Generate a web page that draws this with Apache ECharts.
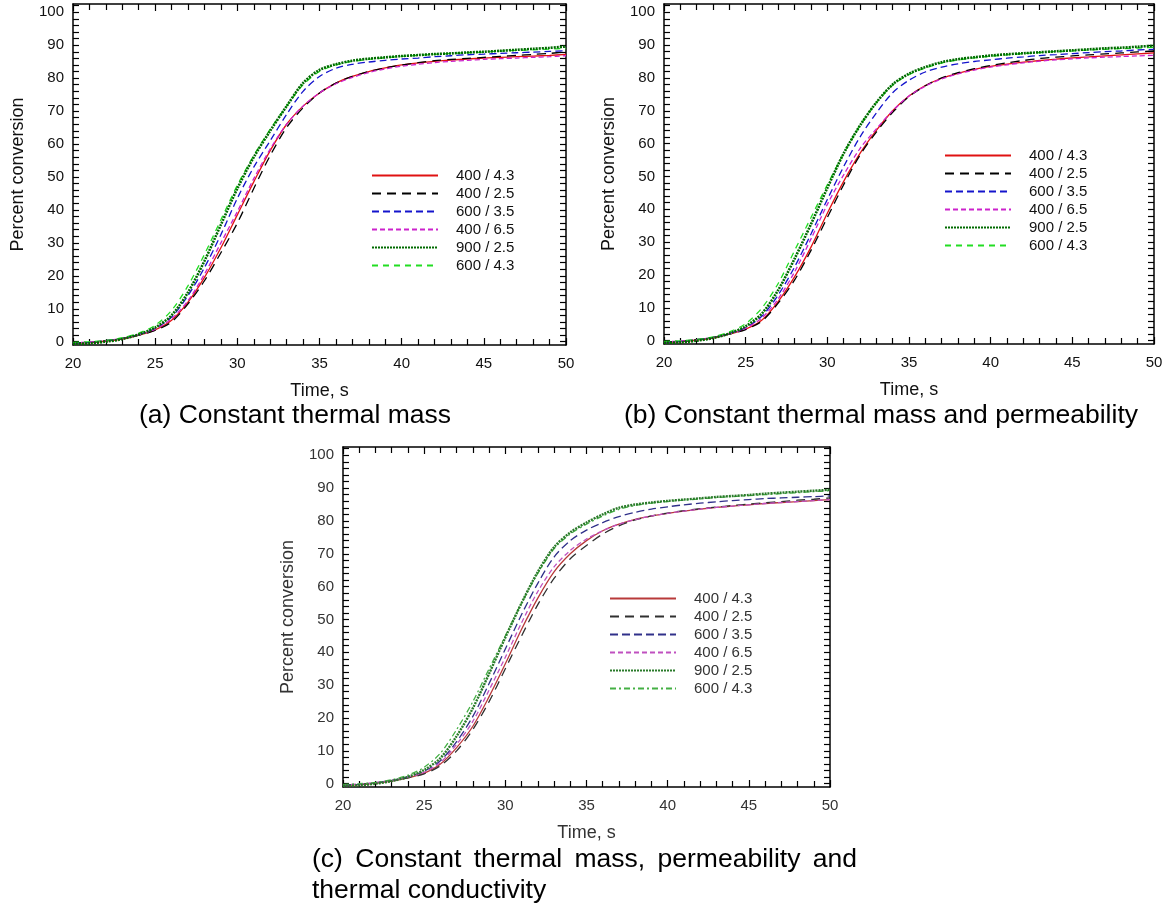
<!DOCTYPE html>
<html>
<head>
<meta charset="utf-8">
<script src="https://cdn.jsdelivr.net/npm/echarts@6/dist/echarts.min.js"></script>
<style>
  html, body { margin: 0; padding: 0; background: #fff; }
  #chart { width: 1168px; height: 924px; }
</style>
</head>
<body>
<div id="chart"></div>
<script>
// Time axis (s)
const time = [20,21,22,23,24,25,26,27,28,29,30,31,32,33,34,35,36,37,38,39,40,41,42,43,44,45,46,47,48,49,50];

// Case labels (power / heating rate)
const caseLabels = ['400 / 4.3', '400 / 2.5', '600 / 3.5', '400 / 6.5', '900 / 2.5', '600 / 4.3'];

// Tick labels
const xTicks = [20, 25, 30, 35, 40, 45, 50];
const yTicks = [0, 10, 20, 30, 40, 50, 60, 70, 80, 90, 100];

// (a) Constant thermal mass
const a_400_43 = [-0.5,-0.3,0.2,0.8,2.0,3.6,6.5,12,19.5,28.5,38.5,48.5,58,66,71.5,75.5,78.5,80.5,82,83.1,84,84.6,85.1,85.5,85.8,86.1,86.3,86.5,86.7,86.9,87.2];
const a_400_25 = [-0.3,-0.2,0.3,1.0,2.0,3.4,6,11.5,18.5,27,36,46.5,56.5,65,71,75.5,78.5,80.5,82,83.1,84,84.7,85.3,85.7,86,86.3,86.6,86.9,87.2,87.5,88];
const a_600_35 = [-0.4,-0.2,0.3,1.0,2.2,4,7.5,14,22.5,32.5,43.5,53,61,69,76,80.5,83,84.2,84.9,85.4,85.8,86.1,86.5,86.8,87.1,87.3,87.5,87.7,87.9,88.1,88.3];
const a_400_65 = [-0.3,-0.1,0.3,1.0,2.1,3.8,7,12.5,20.5,30,39.5,49.5,58.5,66,71.5,75.5,78.3,80.2,81.7,82.8,83.6,84.2,84.7,85.1,85.4,85.7,85.9,86.1,86.3,86.5,86.8];
const a_900_25 = [-0.6,-0.5,0,0.8,2.2,4.3,8,15,24.5,35.5,46.5,56,64,71.5,78.5,82.5,84.2,85.3,85.9,86.3,86.7,87,87.3,87.5,87.8,88,88.3,88.6,88.9,89.2,89.6];
const a_600_43 = [-0.2,0,0.4,1.2,2.6,5,9.5,17,26.5,37,47.5,56.5,64.5,71.5,78,82,84,85.1,85.7,86.2,86.6,86.9,87.2,87.5,87.7,87.9,88.2,88.4,88.6,88.8,89.0];

// (b) Constant thermal mass and permeability
const b_400_43 = [-0.5,-0.3,0.2,0.8,2.0,3.5,6.3,12,19.5,28.5,38.8,48.5,57,64,70,74.5,77.7,79.9,81.4,82.6,83.5,84.2,84.8,85.3,85.7,86.1,86.4,86.7,87,87.3,87.6];
const b_400_25 = [-0.3,-0.2,0.3,1.0,2.0,3.4,6,11.5,18.5,27.5,37.5,47.5,56.5,63.5,69.5,74.3,77.6,80,81.6,82.8,83.8,84.6,85.3,85.9,86.3,86.7,87,87.3,87.6,87.9,88.2];
const b_600_35 = [-0.4,-0.2,0.3,1.0,2.2,4,7.5,14,22.5,32.5,43,53,62,69.3,75.5,79.3,81.8,83.3,84.3,85,85.5,86,86.4,86.8,87.1,87.4,87.7,88,88.2,88.5,88.7];
const b_400_65 = [-0.3,-0.1,0.3,1.0,2.1,3.8,7,12.8,21,31,41.5,50.5,58.5,64.5,70,74.5,77.5,79.7,81.2,82.4,83.3,84,84.6,85.1,85.5,85.8,86.1,86.3,86.5,86.7,86.9];
const b_900_25 = [-0.6,-0.5,0,0.8,2.2,4.4,8.3,15.5,25,35.5,46.5,57,65.5,72.5,78,81.3,83.3,84.8,85.7,86.3,86.8,87.2,87.5,87.8,88.1,88.4,88.7,89,89.2,89.5,89.8];
const b_600_43 = [-0.2,0,0.4,1.2,2.7,5.2,10,17.5,27.5,37.5,47.5,57,65.5,72.5,77.8,81,83,84.5,85.5,86.1,86.6,87,87.4,87.7,88,88.2,88.5,88.7,88.9,89.1,89.3];

// (c) Constant thermal mass, permeability and thermal conductivity
const c_400_43 = [-0.5,-0.3,0.2,0.8,1.8,3.2,6,11,17.5,26.5,36.5,47,56.5,64.5,70,74,77,79,80.5,81.5,82.3,83,83.6,84.1,84.5,84.9,85.3,85.6,85.9,86.2,86.5];
const c_400_25 = [-0.3,-0.2,0.3,0.9,1.8,3,5.5,10,16.5,25,35,45,54.5,62.5,68.5,72.5,76,78.5,80.3,81.5,82.4,83.1,83.7,84.2,84.7,85.1,85.5,85.9,86.3,86.6,87];
const c_600_35 = [-0.4,-0.2,0.3,1.0,2.1,3.8,7,12.8,20.5,30.5,41,51.5,61,69,74,77.2,79.5,81.3,82.6,83.6,84.3,84.9,85.4,85.8,86.2,86.5,86.8,87,87.2,87.4,87.6];
const c_400_65 = [-0.3,-0.1,0.3,1.0,2.0,3.5,6.5,12,19,28.5,38.5,49,58.5,66,71,74.5,77,79,80.4,81.5,82.3,83,83.6,84.1,84.5,84.9,85.3,85.6,85.9,86.2,86.5];
const c_900_25 = [-0.6,-0.5,0,0.8,2.1,4.2,7.8,14.5,23,33.5,44.5,55,64.5,72,76.5,79.5,82,84,85,85.6,86.1,86.5,86.9,87.3,87.6,87.9,88.3,88.6,88.9,89.2,89.5];
const c_600_43 = [-0.2,0,0.4,1.2,2.6,5,9.3,16.5,25,35,45,55,64,71.5,76,79,81.5,83.5,84.7,85.4,85.9,86.3,86.7,87.1,87.4,87.7,88,88.3,88.6,88.9,89.2];

// Line styles for the six cases (panels a and b share one scheme, panel c is a muted variant)
const stylesAB = [
  { color: '#e01212', width: 1.3, type: 'solid' },
  { color: '#000000', width: 1.3, type: [9, 6] },
  { color: '#1414cc', width: 1.3, type: [7, 4] },
  { color: '#cc22cc', width: 1.3, type: [5, 3] },
  { color: '#006a00', width: 2.6, type: [2, 1] },
  { color: '#22dd22', width: 1.3, type: [6, 5] }
];
const stylesC = [
  { color: '#b83a3a', width: 1.3, type: 'solid' },
  { color: '#303030', width: 1.3, type: [9, 6] },
  { color: '#30308a', width: 1.3, type: [8, 4] },
  { color: '#c050c0', width: 1.3, type: [5, 3] },
  { color: '#2a7a2a', width: 2.4, type: [2, 1] },
  { color: '#44b044', width: 1.3, type: [6, 3, 2, 3] }
];

const FONT = '"Liberation Sans", Arial, sans-serif';

const panels = [
  { key: 'a', rect: { left: 73, top: 4, width: 493, height: 341 },
    data: [a_400_43, a_400_25, a_600_35, a_400_65, a_900_25, a_600_43], styles: stylesAB,
    legend: { left: 371, top: 168 }, textColor: '#111' },
  { key: 'b', rect: { left: 664, top: 4, width: 490, height: 340 },
    data: [b_400_43, b_400_25, b_600_35, b_400_65, b_900_25, b_600_43], styles: stylesAB,
    legend: { left: 944, top: 148 }, textColor: '#111' },
  { key: 'c', rect: { left: 343, top: 447, width: 487, height: 340 },
    data: [c_400_43, c_400_25, c_600_35, c_400_65, c_900_25, c_600_43], styles: stylesC,
    legend: { left: 609, top: 591 }, textColor: '#333' }
];

const yMinorTicks = [];
for (let v = 0; v <= 102; v += 2) yMinorTicks.push(v);

const grid = [], xAxis = [], yAxis = [], series = [], legend = [];

panels.forEach((p, gi) => {
  grid.push(Object.assign({ show: false, containLabel: false }, p.rect));
  const tc = p.textColor;
  const lineStyle = { color: '#000', width: 1.5 };
  const tickStyle = { color: '#000', width: 1.2 };
  // bottom axis with labels
  xAxis.push({
    gridIndex: gi, type: 'value', min: 20, max: 50, interval: 5, position: 'bottom',
    name: 'Time, s', nameLocation: 'middle', nameGap: 37,
    nameTextStyle: { fontFamily: FONT, fontSize: 18, color: tc },
    axisLine: { show: true, onZero: false, lineStyle },
    axisTick: { show: true, inside: true, length: 7, lineStyle: tickStyle },
    minorTick: { show: true, splitNumber: 5, length: 6, lineStyle: tickStyle },
    axisLabel: { show: true, margin: 11, color: tc, fontFamily: FONT, fontSize: 15, customValues: xTicks },
    splitLine: { show: false }
  });
  // top edge of the frame
  xAxis.push({
    gridIndex: gi, type: 'value', min: 20, max: 50, interval: 5, position: 'top',
    axisLine: { show: true, onZero: false, lineStyle },
    axisTick: { show: true, inside: true, length: 7, lineStyle: tickStyle },
    minorTick: { show: true, splitNumber: 5, length: 6, lineStyle: tickStyle },
    axisLabel: { show: false }, splitLine: { show: false }
  });
  // left axis with labels
  yAxis.push({
    gridIndex: gi, type: 'value', min: -1, max: 102.5, position: 'left',
    name: 'Percent conversion', nameLocation: 'middle', nameGap: 46,
    nameTextStyle: { fontFamily: FONT, fontSize: 18, color: tc },
    axisLine: { show: true, onZero: false, lineStyle },
    axisTick: { show: true, inside: true, length: 6, customValues: yMinorTicks, lineStyle: tickStyle },
    axisLabel: { show: true, margin: 9, color: tc, fontFamily: FONT, fontSize: 15, customValues: yTicks },
    splitLine: { show: false }
  });
  // right edge of the frame
  yAxis.push({
    gridIndex: gi, type: 'value', min: -1, max: 102.5, position: 'right',
    axisLine: { show: true, onZero: false, lineStyle },
    axisTick: { show: true, inside: true, length: 6, customValues: yMinorTicks, lineStyle: tickStyle },
    axisLabel: { show: false }, splitLine: { show: false }
  });

  const names = [];
  p.data.forEach((vals, si) => {
    const st = p.styles[si];
    const name = p.key + '|' + caseLabels[si];
    names.push(name);
    series.push({
      type: 'line', name,
      xAxisIndex: gi * 2, yAxisIndex: gi * 2,
      data: time.map((t, i) => [t, vals[i]]),
      symbol: 'none', smooth: 0.3, clip: true,
      color: st.color,
      lineStyle: { color: st.color, width: st.width, type: st.type },
      z: 2 + (si === 4 ? 1 : 0),
      animation: false
    });
  });

  legend.push({
    data: names, orient: 'vertical',
    left: p.legend.left, top: p.legend.top, padding: 0,
    itemWidth: 66, itemHeight: 14, itemGap: 3,
    itemStyle: { opacity: 0 },
    selectedMode: false,
    formatter: n => n.split('|')[1],
    textStyle: { fontFamily: FONT, fontSize: 15, lineHeight: 15, color: tc, padding: [0, 0, 0, 13] }
  });
});

// Sub-figure captions, each centred in its column
const capFont = '26.5px "Liberation Sans", Arial, sans-serif';
const graphic = [
  { type: 'text', x: 295, y: 402, style: { text: '(a) Constant thermal mass', font: capFont, fill: '#000', align: 'center' } },
  { type: 'text', x: 881, y: 402, style: { text: '(b) Constant thermal mass and permeability', font: capFont, fill: '#000', align: 'center' } }
];

// Caption (c): first line justified across the caption block, second line left aligned
const capC = { left: 312, width: 545, top1: 846, top2: 877 };
const line1 = ['(c)', 'Constant', 'thermal', 'mass,', 'permeability', 'and'];
const ctx = document.createElement('canvas').getContext('2d');
ctx.font = capFont;
const wordW = line1.map(w => ctx.measureText(w).width);
const gap = (capC.width - wordW.reduce((s, w) => s + w, 0)) / (line1.length - 1);
let cx = capC.left;
line1.forEach((w, i) => {
  graphic.push({ type: 'text', x: cx, y: capC.top1, style: { text: w, font: capFont, fill: '#000' } });
  cx += wordW[i] + gap;
});
graphic.push({ type: 'text', x: capC.left, y: capC.top2, style: { text: 'thermal conductivity', font: capFont, fill: '#000' } });

const option = {
  backgroundColor: '#ffffff',
  animation: false,
  grid, xAxis, yAxis, series, legend, graphic
};

const chart = echarts.init(document.getElementById('chart'), null, { renderer: 'canvas' });
chart.setOption(option);
</script>
</body>
</html>
